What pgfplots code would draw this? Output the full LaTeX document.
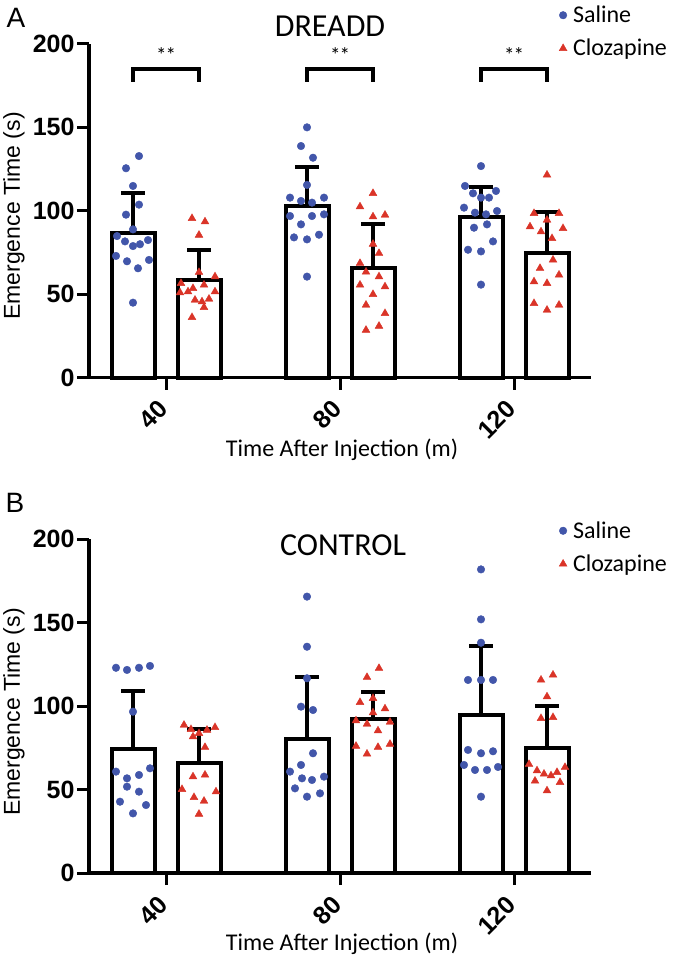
\documentclass[border=0pt]{standalone}
\usepackage{pgfplots}
\pgfplotsset{compat=1.18}
\usepackage{fontspec}
\setmainfont{Carlito}
\newfontfamily\arial{Liberation Sans}
\definecolor{sal}{RGB}{66,86,170}
\definecolor{clz}{RGB}{218,52,40}

\pgfplotsset{
  panel/.style={
    scale only axis, width=502pt, height=334pt,
    xmin=89, xmax=591, ymin=0, ymax=200,
    axis x line*=bottom, axis y line*=left,
    axis line style={line width=3.5pt, -},
    clip=false,
    tick align=outside,
    major tick length=12pt,
    every tick/.style={black, line width=3pt},
    ytick={0,50,100,150,200},
    yticklabels={0,50,100,150,200},
    xtick={166,340,514},
    xticklabels={40,80,120},
    tick label style={font=\arial\bfseries\fontsize{25pt}{27pt}\selectfont},
    yticklabel style={xshift=1pt},
    xticklabel style={yshift=-13pt, xshift=0pt, rotate=45, anchor=east},
    minor tick num=0,
    legend style={draw=none, fill=none, font=\fontsize{24pt}{28pt}\selectfont, row sep=11pt,
      /tikz/every odd column/.append style={column sep=4pt}},
    legend cell align=left,
  },
  bars/.style={ybar, bar width=43, bar shift=0pt, fill=white, draw=black, line width=4pt,
    error bars/y dir=plus, error bars/y explicit,
    error bars/error bar style={line width=4pt, black},
    error bars/error mark options={rotate=90, mark size=12pt, line width=4pt, black}},
  salm/.style={only marks, mark=*, mark size=3.8pt, color=sal, mark options={draw=sal, fill=sal}},
  clzm/.style={only marks, mark=triangle*, mark size=4.5pt, color=clz, mark options={draw=clz, fill=clz}},
}

\begin{document}
\begin{tikzpicture}
\useasboundingbox (0pt,0pt) rectangle (677pt,-958pt);

% ---------------- Panel A ----------------
\begin{axis}[panel, at={(89pt,-377.5pt)}, anchor=south west,
  legend style={at={(axis cs:556,207)}, anchor=west}]
\addplot[bars, forget plot] coordinates {(133,86.7) +- (0,23.6) (307,102.8) +- (0,23.1) (481,96.3) +- (0,18.0)};
\addplot[bars, forget plot] coordinates {(199,58.2) +- (0,18.1) (373,65.5) +- (0,26.2) (547,74.7) +- (0,24.2)};
% Saline dots
\addplot[salm, forget plot] coordinates {
(139,132.6) (126,125.3) (133,114.7) (139,103.5) (126,97.5) (133,88.7) (117,84.7) (125,81.5)
(133,78.7) (140,79.8) (148,82.3) (116,72.8) (127,69.6) (149,70.4) (138,65.4) (133,44.8)
(307,149.8) (301,138.6) (313,131.6) (307,115.3) (290,107.7) (301,105.7) (312,104.7) (324,107.7)
(290,96.7) (312,96.7) (324,97.7) (301,91.7) (294,83.9) (307,82.7) (319,85.5) (307,60.4)
(481,126.6) (465,114.7) (473,110.3) (496,111.7) (481,107.7) (489,107.7) (464,101.7) (475,98.7)
(486,97.7) (497,99.7) (474,89.7) (487,91.7) (493,81.5) (468,76.5) (481,75.5) (481,55.6)};
% Clozapine triangles
\addplot[clzm, forget plot] coordinates {
(192,95.3) (205,93.3) (199,85.3) (199,63) (215,60.4) (181,56.4) (204,55.4) (193,53.4)
(180,50.8) (188,51.4) (215,51.4) (195,46.4) (202,45.4) (209,47) (204,42) (192,36)
(373,110.3) (360,102.3) (373,96.3) (385,97.3) (373,79.9) (379,74.4) (360,68.4) (366,63.2)
(379,60.4) (360,55.4) (385,54.4) (373,49.8) (366,43.4) (385,38.4) (379,30.8) (366,28.4)
(547,121.3) (534,98.3) (559,98.3) (547,94.3) (530,90.3) (563,89.3) (541,87.3) (552,83.3)
(553,70.4) (540,65.4) (559,61.4) (534,57.4) (547,56.4) (534,44.4) (559,43.4) (547,40.4)};
% significance brackets
\addplot[black, line width=4pt, forget plot] coordinates {(133,177) (133,185) (199,185) (199,177)};
\addplot[black, line width=4pt, forget plot] coordinates {(307,177) (307,185) (373,185) (373,177)};
\addplot[black, line width=4pt, forget plot] coordinates {(481,177) (481,185) (547,185) (547,177)};
\node[font=\fontsize{21pt}{23pt}\selectfont] at (axis cs:166,193) {*\kern-1pt*};
\node[font=\fontsize{21pt}{23pt}\selectfont] at (axis cs:340,193) {*\kern-1pt*};
\node[font=\fontsize{21pt}{23pt}\selectfont] at (axis cs:514,193) {*\kern-1pt*};
\addlegendimage{salm}\addlegendentry{Saline}
\addlegendimage{clzm}\addlegendentry{Clozapine}
\end{axis}

% ---------------- Panel B ----------------
\begin{axis}[panel, at={(89pt,-873pt)}, anchor=south west,
  legend style={at={(axis cs:556,195)}, anchor=west}]
\addplot[bars, forget plot] coordinates {(133,74.4) +- (0,34.6) (307,80.0) +- (0,37.6) (481,94.6) +- (0,41.5)};
\addplot[bars, forget plot] coordinates {(199,66.0) +- (0,20.0) (373,92.2) +- (0,16.0) (547,74.8) +- (0,25.2)};
\addplot[salm, forget plot] coordinates {
(116,122.9) (127,121.6) (139,122.9) (150,124) (133,96.6) (116,60.7) (150,62.7) (139,58.7)
(127,56.7) (127,51.7) (139,48.7) (120,42.7) (146,40.7) (133,35.7)
(307,165.5) (307,135.5) (307,116.6) (301,99.6) (313,97.6) (313,71.7) (301,64.7) (290,60.7)
(302,56.7) (312,55.7) (324,57.7) (295,50.7) (307,45.7) (320,47.7)
(481,181.8) (481,151.9) (481,137.9) (468,115.6) (481,115.6) (493,115.6) (468,73.7) (481,71.7)
(493,72.9) (464,64.7) (475,61.7) (487,61.7) (498,63.5) (481,45.7)};
\addplot[clzm, forget plot] coordinates {
(184,88.6) (191,86) (199,83.6) (207,85.6) (215,87.2) (193,81.6) (205,75.3) (193,57.7)
(205,58.7) (182,50.1) (216,48.7) (194,45.3) (204,43.1) (199,35.3)
(379,122.6) (367,117.2) (373,104.6) (360,102.2) (385,98.4) (373,96) (356,91.2) (367,89.2)
(390,90.4) (378,85.2) (356,76) (378,75.3) (390,77.2) (367,71.3)
(553,118.6) (541,115.6) (547,105.6) (541,92.6) (553,93.2) (529,65.1) (565,63.3) (537,61.3)
(544,59.3) (551,58.3) (557,60.3) (535,55.1) (560,54.3) (547,49.3)};
\addlegendimage{salm}\addlegendentry{Saline}
\addlegendimage{clzm}\addlegendentry{Clozapine}
\end{axis}

% ---------------- Texts ----------------
\node[font=\arial\fontsize{28pt}{30pt}\selectfont] at (16pt,-18pt) {A};
\node[font=\arial\fontsize{28pt}{30pt}\selectfont] at (15pt,-503pt) {B};
\node[font=\fontsize{32pt}{36pt}\selectfont] at (330pt,-26pt) {DREADD};
\node[font=\fontsize{32pt}{36pt}\selectfont] at (343pt,-545pt) {CONTROL};
\node[rotate=90, font=\arial\fontsize{23pt}{25pt}\selectfont] at (14pt,-216pt) {Emergence Time (s)};
\node[rotate=90, font=\arial\fontsize{23pt}{25pt}\selectfont] at (14pt,-712pt) {Emergence Time (s)};
\node[font=\fontsize{24pt}{28pt}\selectfont] at (342pt,-450pt) {Time After Injection (m)};
\node[font=\fontsize{24pt}{28pt}\selectfont] at (342pt,-944pt) {Time After Injection (m)};
\end{tikzpicture}
\end{document}
